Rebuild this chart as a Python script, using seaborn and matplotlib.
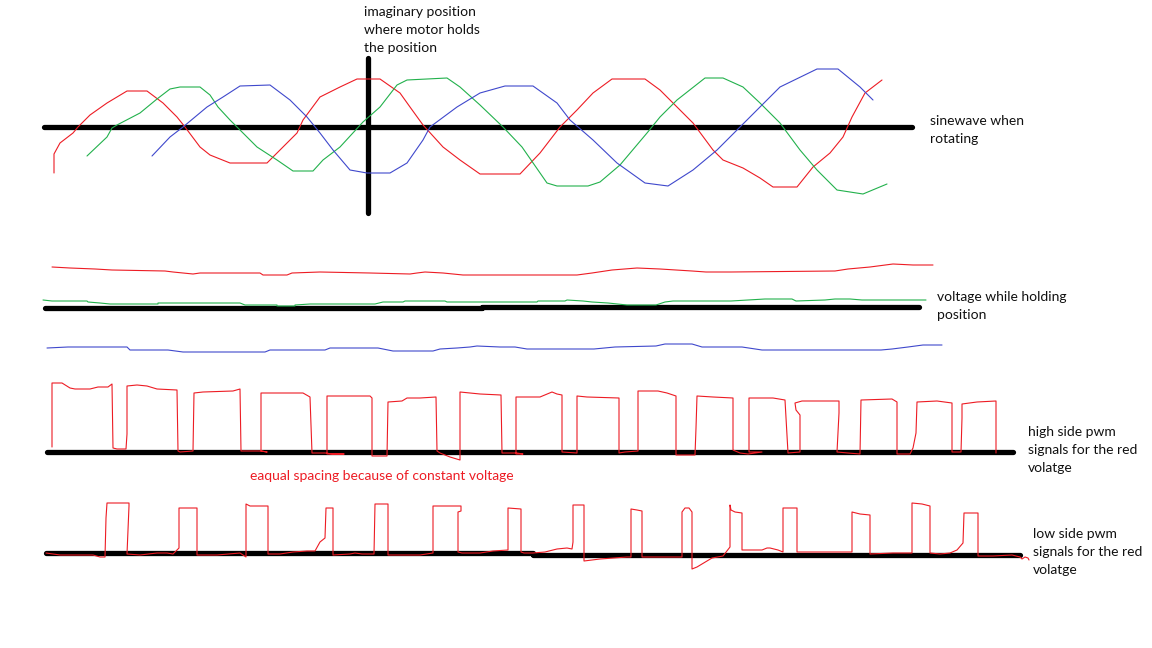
import matplotlib
matplotlib.use("Agg")
import matplotlib.pyplot as plt
import seaborn as sns
import pandas as pd

sns.set_theme(style="white")
plt.rcParams['font.family'] = ['Lato', 'DejaVu Sans']

RED = "#ED1C24"
GREEN = "#22B14C"
BLUE = "#3F48CC"
BLACK = "#000000"

# ---------------- top panel: sine waves while rotating ----------------
sine_red_x = [54, 54, 60, 73, 78, 90, 107, 127, 147, 163, 177, 185, 200, 210, 230, 267, 283, 297, 303, 320,
              340, 357, 380, 400, 410, 423, 443, 460, 480, 520, 540, 560, 577, 593, 612, 645, 660, 677, 693,
              713, 723, 743, 760, 773, 797, 813, 830, 843, 852, 865, 882]
sine_red_y = [173, 154, 143, 133, 127, 115, 103, 91, 91, 103, 117, 127, 147, 155, 163, 163, 147, 133, 120, 97,
              87, 79, 79, 93, 107, 125, 147, 160, 174, 174, 153, 127, 110, 93, 79, 79, 90, 107, 123,
              150, 160, 168, 178, 187, 187, 167, 153, 137, 117, 93, 80]

sine_green_x = [87, 107, 112, 117, 140, 157, 170, 180, 200, 210, 218, 230, 237, 257, 277, 293, 313, 323, 340,
                363, 380, 397, 407, 447, 460, 480, 503, 522, 547, 557, 588, 600, 620, 647, 660, 677, 705, 723,
                743, 760, 780, 800, 817, 837, 863, 887]
sine_green_y = [156, 137, 128, 125, 113, 99, 89, 87, 87, 95, 107, 120, 127, 147, 160, 171, 171, 160, 147,
                122, 107, 85, 80, 78, 87, 105, 127, 147, 183, 186, 186, 182, 165, 133, 117, 100, 78, 78,
                87, 103, 123, 150, 170, 190, 194, 184]

sine_blue_x = [152, 170, 183, 207, 223, 240, 270, 290, 307, 320, 333, 350, 367, 390, 407, 423, 430, 457, 480,
               505, 533, 557, 570, 593, 617, 645, 668, 693, 717, 740, 760, 780, 817, 838, 860, 873]
sine_blue_y = [156, 137, 127, 107, 97, 86, 85, 100, 117, 133, 150, 170, 173, 173, 163, 140, 127, 107, 93,
               86, 86, 103, 120, 140, 163, 183, 186, 170, 150, 127, 107, 87, 69, 69, 87, 100]

rot_axis_x = [44, 912]
rot_axis_y = [127, 127]
hold_marker_x = [368, 368]
hold_marker_y = [58, 213]

# ---------------- middle panel: voltage while holding ----------------
hold_red_x = [52, 70, 95, 112, 165, 173, 193, 200, 260, 263, 287, 292, 320, 370, 410, 417, 425, 443, 463, 500,
              577, 592, 612, 637, 660, 692, 706, 731, 835, 848, 870, 893, 913, 933]
hold_red_y = [267, 268, 269, 270, 271, 272, 274, 273, 273, 275, 275, 273, 272, 273, 274, 273, 272, 273, 275, 275,
              275, 273, 270, 268, 269, 271, 272, 272, 271, 269, 267, 264, 265, 265]

hold_green_x = [43, 52, 87, 88, 100, 110, 158, 158, 240, 245, 277, 277, 295, 295, 310, 375, 383, 403, 405, 445,
                447, 537, 538, 565, 567, 583, 592, 608, 627, 656, 665, 673, 731, 765, 792, 796, 825, 835, 850,
                862, 926]
hold_green_y = [300, 301, 301, 302, 303, 304, 304, 303, 303, 305, 305, 306, 306, 305, 304, 304, 302, 302, 301, 301,
                302, 302, 301, 301, 300, 301, 302, 303, 305, 305, 302, 301, 301, 299, 299, 301, 300, 299, 299,
                300, 300]

hold_blue_x = [47, 68, 127, 130, 168, 183, 265, 270, 325, 330, 378, 388, 393, 433, 440, 457, 470, 477, 500,
               515, 527, 594, 615, 656, 665, 692, 702, 742, 762, 881, 892, 908, 923, 942]
hold_blue_y = [348, 347, 347, 350, 350, 352, 352, 350, 350, 348, 348, 350, 351, 351, 349, 348, 347, 346, 347,
               347, 349, 349, 347, 346, 344, 344, 347, 347, 350, 350, 349, 347, 345, 345]

hold_axis_x = [45, 482, 482, 919]
hold_axis_y = [308, 308, 306.5, 306.5]

# ---------------- high side PWM ----------------
high_x = [52, 52, 62, 70, 75, 90, 98, 108, 112, 113, 117, 126, 127, 127, 137, 147, 157, 177, 178, 180, 193,
          194, 203, 233, 240, 241, 261, 267, 261, 261, 303, 310, 312, 325, 333, 344, 327, 327, 370, 372, 372,
          387, 388, 402, 407, 420, 436, 437, 440, 450, 460, 460, 470, 480, 501, 502, 517, 523, 516, 516, 540,
          552, 557, 562, 562, 577, 577, 587, 619, 619, 625, 638, 638, 658, 667, 676, 676, 685, 695, 696, 697,
          713, 733, 733, 740, 748, 762, 749, 749, 773, 785, 788, 800, 800, 796, 795, 802, 839, 839, 837, 848,
          860, 861, 892, 897, 897, 910, 913, 916, 917, 937, 952, 952, 961, 962, 962, 977, 996, 996]
high_y = [447, 383, 383, 388, 389, 389, 387, 387, 384, 448, 449, 449, 434, 386, 385, 386, 389, 390, 451, 452, 451,
          393, 392, 391, 389, 451, 451, 452, 451, 393, 393, 397, 453, 453, 454, 454, 454, 396, 396, 398, 456,
          456, 402, 401, 398, 398, 397, 451, 453, 457, 460, 392, 393, 394, 395, 453, 453, 454, 454, 397, 397,
          392, 394, 395, 452, 453, 396, 397, 398, 453, 452, 451, 391, 391, 393, 396, 455, 455, 455, 428, 396,
          397, 398, 450, 453, 454, 452, 452, 398, 398, 400, 453, 452, 415, 410, 403, 401, 401, 413, 452, 453,
          454, 400, 399, 402, 454, 454, 448, 433, 402, 401, 403, 452, 452, 418, 404, 402, 401, 453]
high_axis_x = [47, 1013]
high_axis_y = [452, 452]

# ---------------- low side PWM ----------------
low_x = [46, 60, 93, 100, 105, 106, 107, 129, 129, 127, 140, 157, 167, 173, 177, 179, 179, 183, 197, 197, 217,
         240, 246, 246, 250, 268, 268, 280, 293, 307, 315, 320, 325, 326, 333, 333, 350, 355, 362, 374, 375,
         388, 388, 420, 433, 433, 461, 461, 458, 458, 462, 480, 493, 508, 508, 521, 521, 524, 533, 545, 557,
         567, 572, 573, 573, 584, 584, 600, 627, 631, 631, 637, 642, 642, 663, 682, 682, 685, 689, 692, 692,
         697, 712, 723, 730, 730, 731, 735, 742, 742, 762, 767, 770, 778, 783, 783, 797, 797, 852, 852, 860,
         870, 870, 893, 912, 912, 922, 930, 930, 940, 950, 957, 963, 964, 978, 978, 993, 1012, 1020, 1022,
         1025, 1028, 1029]
low_y = [553, 555, 555, 557, 557, 518, 503, 503, 506, 554, 555, 553, 553, 554, 550, 548, 508, 508, 508, 555, 555,
         553, 557, 504, 506, 506, 554, 554, 552, 551, 551, 542, 538, 508, 508, 555, 554, 553, 554, 554, 504,
         504, 555, 555, 553, 506, 506, 511, 512, 552, 553, 553, 551, 550, 508, 509, 552, 553, 553, 552, 549,
         548, 549, 542, 505, 505, 561, 559, 557, 557, 509, 510, 511, 557, 557, 557, 512, 508, 508, 512, 569,
         567, 558, 556, 547, 505, 510, 512, 513, 550, 550, 548, 548, 550, 552, 508, 508, 552, 552, 512, 514,
         515, 554, 553, 553, 503, 504, 506, 553, 554, 553, 550, 543, 513, 513, 556, 556, 555, 557, 559,
         557, 558, 560]
low_axis_x = [46, 533, 533, 1020]
low_axis_y = [553, 553, 554.5, 554.5]

# ---------------- annotations ----------------
note_hold_lines = ["imaginary position", "where motor holds", "the position"]
note_sine_lines = ["sinewave when", "rotating"]
note_voltage_lines = ["voltage while holding", "position"]
note_high_lines = ["high side pwm", "signals for the red", "volatge"]
note_low_lines = ["low side pwm", "signals for the red", "volatge"]
note_spacing = "eaqual spacing because of constant voltage"

# ---------------- drawing ----------------
fig = plt.figure(figsize=(11.52, 6.48), dpi=100)
ax = fig.add_axes([0, 0, 1, 1])


def trace(xs, ys, color, lw):
    df = pd.DataFrame({"x": xs, "y": ys})
    sns.lineplot(data=df, x="x", y="y", sort=False, estimator=None, color=color,
                 lw=lw, ax=ax, legend=False)


# thick black axes
for xs, ys in [(rot_axis_x, rot_axis_y), (hold_marker_x, hold_marker_y), (hold_axis_x, hold_axis_y),
               (high_axis_x, high_axis_y), (low_axis_x, low_axis_y)]:
    trace(xs, ys, BLACK, 3.8)
for line in ax.lines:
    line.set_solid_capstyle("round")

trace(sine_red_x, sine_red_y, RED, 0.8)
trace(sine_green_x, sine_green_y, GREEN, 0.8)
trace(sine_blue_x, sine_blue_y, BLUE, 0.8)
trace(hold_red_x, hold_red_y, RED, 0.8)
trace(hold_green_x, hold_green_y, GREEN, 0.8)
trace(hold_blue_x, hold_blue_y, BLUE, 0.8)
trace(high_x, high_y, RED, 0.8)
trace(low_x, low_y, RED, 0.8)


def note(lines, x, y0, color="#111111", step=18):
    for i, t in enumerate(lines):
        ax.text(x, y0 + i * step, t, color=color, fontsize=10, va="center", ha="left")


note(note_hold_lines, 364, 12)
note(note_sine_lines, 930, 121)
note(note_voltage_lines, 937, 297)
note(note_high_lines, 1028, 432)
note(note_low_lines, 1033, 534)
ax.text(250, 476, note_spacing, color=RED, fontsize=10, va="center", ha="left")

ax.set_xlim(0, 1152)
ax.set_ylim(648, 0)
ax.axis("off")
fig.savefig("out.png", dpi=100, facecolor="white")
